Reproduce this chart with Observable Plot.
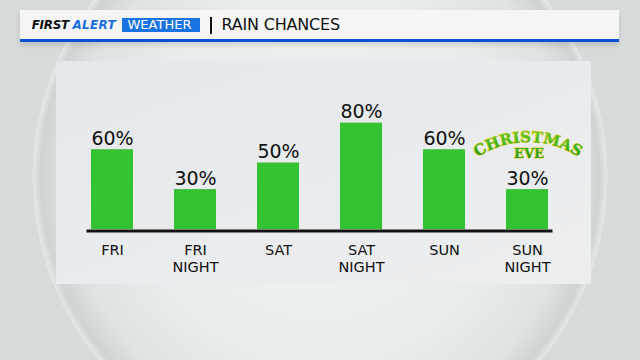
<!DOCTYPE html>
<html><head><meta charset="utf-8">
<script src="https://cdn.jsdelivr.net/npm/d3@7"></script>
<script src="https://cdn.jsdelivr.net/npm/@observablehq/plot@0.6"></script>
<style>
body{margin:0;background:#d6dadb;}
#stage{position:relative;width:640px;height:360px;overflow:hidden;background:#d6dadb;font-family:"DejaVu Sans",sans-serif;}
#globe{position:absolute;left:0;top:0;width:640px;height:360px;
 background:radial-gradient(circle 288px at 320px 177px,#f1f3f4 0%,#e9eced 65%,#dfe2e3 88%,#cfd3d4 97%,#e3e6e7 99.5%,rgba(214,218,219,0) 100%);}
#header{position:absolute;left:20px;top:10px;width:599px;height:29px;background:#f5f5f5;border-bottom:3px solid #0a52d1;box-shadow:0 3px 5px rgba(0,0,0,0.12);}
.h{position:absolute;white-space:nowrap;line-height:1;}
#first{left:11.7px;top:9.2px;font-size:12px;font-weight:bold;font-style:italic;color:#111;letter-spacing:-0.3px;}
#alert{left:52.5px;top:9.2px;font-size:12px;font-weight:bold;font-style:italic;color:#1a6fe0;letter-spacing:0.3px;}
#wbox{position:absolute;left:102px;top:8.3px;width:78px;height:13.7px;background:#1a73e3;}
#weather{left:107.5px;top:8.3px;font-size:13px;color:#fff;}
#pipe{position:absolute;left:190px;top:6.7px;width:2px;height:17.3px;background:#111;}
#title{left:201.5px;top:7.2px;font-size:16px;color:#111;letter-spacing:-0.2px;}
#panel{position:absolute;left:56px;top:61px;width:535px;height:223px;background:linear-gradient(160deg,#e5e8ea,#eceef0);}
</style>
</head><body>
<div id="stage">
 <div id="globe"></div>
 <div id="header">
  <span class="h" id="first">FIRST</span>
  <span class="h" id="alert">ALERT</span>
  <div id="wbox"></div>
  <span class="h" id="weather">WEATHER</span>
  <div id="pipe"></div>
  <span class="h" id="title">RAIN CHANCES</span>
 </div>
 <div id="panel"></div>
</div>
<script>
const days = ["FRI", "FRI NIGHT", "SAT", "SAT NIGHT", "SUN", "SUN NIGHT"];
const dayLabels = ["FRI", "FRI\nNIGHT", "SAT", "SAT\nNIGHT", "SUN", "SUN\nNIGHT"];
const chances = [60, 30, 50, 80, 60, 30];
const noteDay = "SUN NIGHT";
const noteTop = "CHRISTMAS";
const noteBottom = "EVE";

const data = days.map((d, i) => ({day: d, label: dayLabels[i], pct: chances[i]}));
const note = data.filter(d => d.day === noteDay);

const plot = Plot.plot({
  width: 535,
  height: 223,
  marginLeft: 13,
  marginRight: 21,
  marginTop: 35,
  marginBottom: 55,
  x: {domain: days, paddingInner: 0.5, paddingOuter: 0.25, axis: null},
  y: {domain: [0, 100], axis: null},
  style: {background: "transparent", fontFamily: "DejaVu Sans", color: "#111", overflow: "visible"},
  marks: [
    Plot.barY(data, {x: "day", y: "pct", fill: "#34c230"}),
    Plot.ruleY([0], {stroke: "#111", strokeWidth: 3, dy: 1.5, insetLeft: 17.5, insetRight: 17.5}),
    Plot.text(data, {x: "day", y: "pct", text: d => d.pct + "%", dy: -5, lineAnchor: "bottom", fontSize: 19, fill: "#111"}),
    Plot.text(data, {x: "day", y: 0, text: "label", dy: 13, lineAnchor: "top", fontSize: 14.5, lineHeight: 1.17, fill: "#111"})
  ]
});
document.getElementById("panel").appendChild(plot);

// arched "CHRISTMAS EVE" label over the note bar, positioned via the plot's scales
const svg = d3.select(plot);
const xs = plot.scale("x"), ys = plot.scale("y");
const cx = xs.apply(noteDay) + xs.bandwidth / 2 + 1;
const barTop = ys.apply(note[0].pct);
const apex = barTop - 47;
const R = 93, a = 0.75;
const defs = svg.append("defs");
const g = defs.append("linearGradient").attr("id", "xmasfill").attr("x1", 0).attr("y1", 0).attr("x2", 0).attr("y2", 1);
g.append("stop").attr("offset", "0%").attr("stop-color", "#6fd02e");
g.append("stop").attr("offset", "55%").attr("stop-color", "#3cb322");
g.append("stop").attr("offset", "100%").attr("stop-color", "#23901a");
defs.append("path").attr("id", "xmasarc")
  .attr("d", `M${cx - R * Math.sin(a)},${apex + R - R * Math.cos(a)} A${R},${R} 0 0 1 ${cx + R * Math.sin(a)},${apex + R - R * Math.cos(a)}`);
const xt = svg.append("text")
  .attr("font-family", "DejaVu Serif").attr("font-weight", "bold").attr("font-size", 15)
  .attr("fill", "url(#xmasfill)").attr("stroke", "#e9cf17").attr("stroke-width", 1).attr("paint-order", "stroke");
xt.append("textPath").attr("href", "#xmasarc").attr("startOffset", "50%").attr("text-anchor", "middle")
  .text(noteTop);
xt.append("tspan").attr("x", cx + 1).attr("y", barTop - 31).attr("text-anchor", "middle").attr("font-size", 13)
  .text(noteBottom);
</script>
</body></html>
